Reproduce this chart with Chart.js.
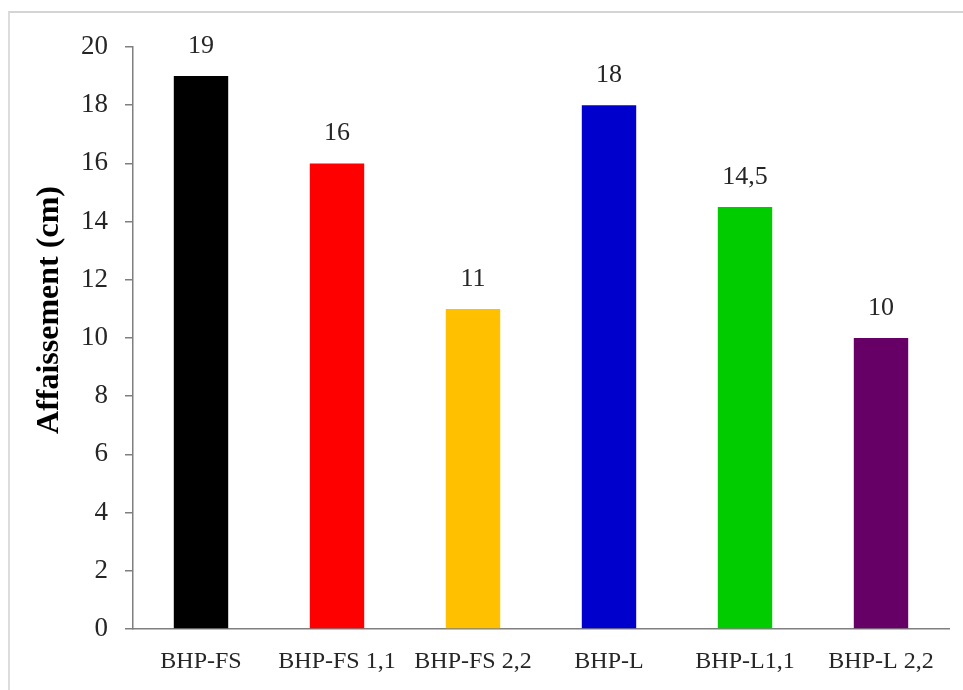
<!DOCTYPE html>
<html>
<head>
<meta charset="utf-8">
<script src="https://cdn.jsdelivr.net/npm/chart.js@4/dist/chart.umd.min.js"></script>
<style>
  html, body { margin: 0; padding: 0; background: #fff; }
  #wrap { position: relative; width: 963px; height: 690px; }
  #frame { position: absolute; left: 8px; top: 11px; right: 0; bottom: 0;
           border-top: 2px solid #d4d4d4; border-left: 2px solid #dcdcdc; pointer-events: none; }
</style>
</head>
<body>
<div id="wrap">
  <canvas id="chart"></canvas>
  <div id="frame"></div>
</div>
<script>
// data
const categories = ['BHP-FS', 'BHP-FS 1,1', 'BHP-FS 2,2', 'BHP-L', 'BHP-L1,1', 'BHP-L 2,2'];
const slump = [19, 16, 11, 18, 14.5, 10];
const barColors = ['#000000', '#ff0000', '#ffc000', '#0000cc', '#00cc00', '#660066'];
const yTicks = [0, 2, 4, 6, 8, 10, 12, 14, 16, 18, 20];
const yTitle = 'Affaissement (cm)';

const serif = '"Liberation Serif", "Times New Roman", serif';
const axisColor = '#7f7f7f';

// value labels above bars, comma as decimal mark
const valueLabels = {
    id: 'valueLabels',
    afterDatasetsDraw(chart) {
        const ctx = chart.ctx;
        const meta = chart.getDatasetMeta(0);
        ctx.save();
        ctx.font = '26px ' + serif;
        ctx.fillStyle = '#262626';
        ctx.textAlign = 'center';
        ctx.textBaseline = 'alphabetic';
        meta.data.forEach((bar, i) => {
            const txt = String(slump[i]).replace('.', ',');
            ctx.fillText(txt, bar.x, bar.y - 23);
        });
        ctx.restore();
    }
};

// vertical axis title, sits a bit above the middle like the original
const axisTitle = {
    id: 'axisTitle',
    afterDraw(chart) {
        const ctx = chart.ctx;
        ctx.save();
        ctx.translate(50, 310);
        ctx.rotate(-Math.PI / 2);
        ctx.font = 'bold 32px ' + serif;
        ctx.fillStyle = '#000';
        ctx.textAlign = 'center';
        ctx.textBaseline = 'middle';
        ctx.fillText(yTitle, 0, 0);
        ctx.restore();
    }
};

new Chart(document.getElementById('chart'), {
    type: 'bar',
    data: {
        labels: categories,
        datasets: [{
            data: slump,
            backgroundColor: barColors,
            borderWidth: 0,
            barPercentage: 0.4,
            categoryPercentage: 1.0
        }]
    },
    options: {
        responsive: true,
        maintainAspectRatio: false,
        animation: false,
        layout: { padding: { top: 47, right: 14, bottom: 0, left: 0 } },
        plugins: { legend: { display: false }, tooltip: { enabled: false } },
        scales: {
            x: {
                grid: { display: false, drawTicks: false },
                border: { display: true, color: axisColor, width: 1.5 },
                ticks: { color: '#262626', font: { family: serif, size: 24 }, padding: 18, maxRotation: 0, autoSkip: false },
                afterFit: s => { s.height = 61; }
            },
            y: {
                min: 0,
                max: 20,
                afterBuildTicks: s => { s.ticks = yTicks.map(v => ({ value: v })); },
                grid: { display: true, drawOnChartArea: false, drawTicks: true, tickLength: 8, color: axisColor, lineWidth: 1.5 },
                border: { display: true, color: axisColor, width: 1.5 },
                ticks: { color: '#262626', font: { family: serif, size: 27 }, padding: 17 },
                afterFit: s => { s.width = 133; }
            }
        }
    },
    plugins: [valueLabels, axisTitle]
});
</script>
</body>
</html>
